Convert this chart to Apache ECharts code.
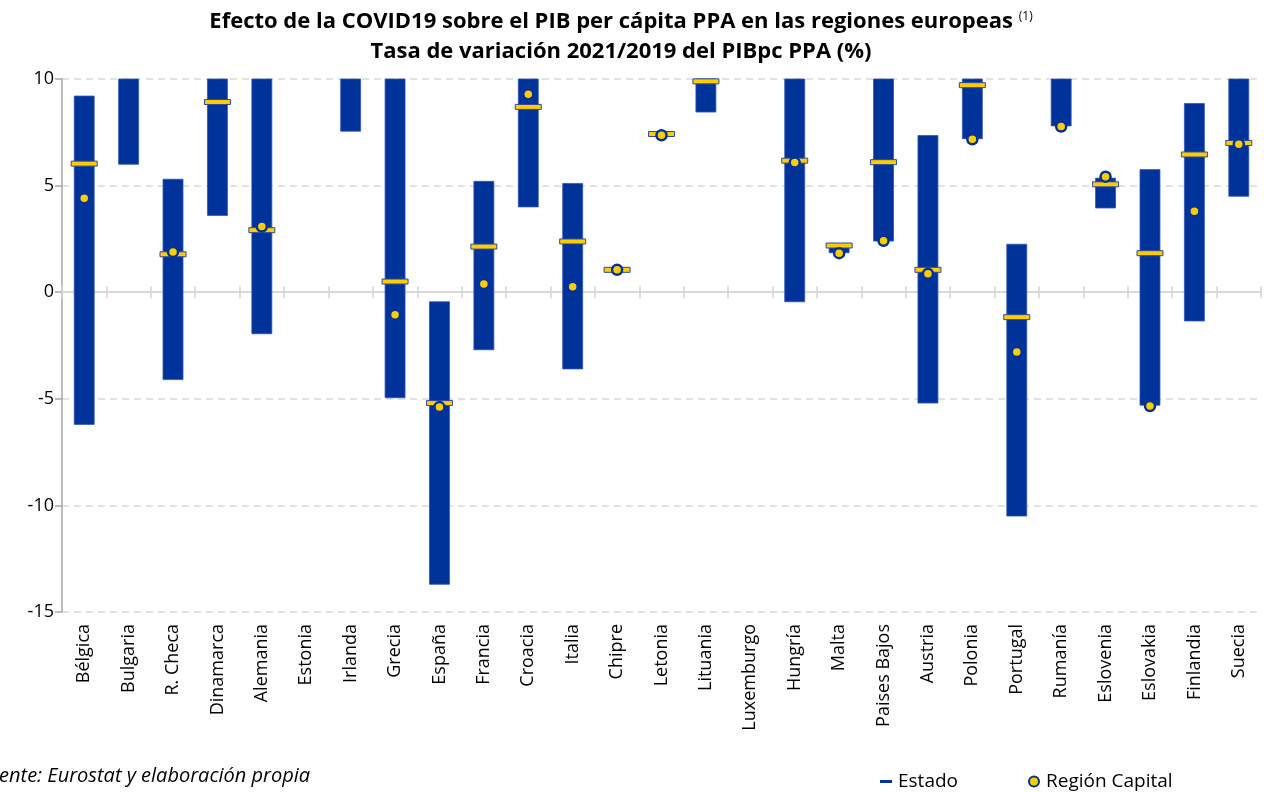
<!DOCTYPE html>
<html>
<head>
<meta charset="utf-8">
<script src="https://cdn.jsdelivr.net/npm/echarts@6/dist/echarts.min.js"></script>
<style>
  html, body { margin: 0; padding: 0; background: #fff; }
  #pib-chart { width: 1264px; height: 792px; }
</style>
</head>
<body>
<div id="pib-chart"></div>
<script>
var paises = ['Bélgica', 'Bulgaria', 'R. Checa', 'Dinamarca', 'Alemania', 'Estonia', 'Irlanda', 'Grecia',
    'España', 'Francia', 'Croacia', 'Italia', 'Chipre', 'Letonia', 'Lituania', 'Luxemburgo', 'Hungría',
    'Malta', 'Paises Bajos', 'Austria', 'Polonia', 'Portugal', 'Rumanía', 'Eslovenia', 'Eslovakia',
    'Finlandia', 'Suecia'];

// rango regional (minimo / maximo), recortado en 10 como en el original
var rangoMin = [-6.2, 6.0, -4.1, 3.6, -1.95, null, 7.55, -4.95, -13.7, -2.7, 4.0, -3.6, 1.05, 7.38, 8.45, null,
    -0.45, 1.85, 2.4, -5.2, 7.2, -10.5, 7.8, 3.95, -5.3, -1.35, 4.5];
var rangoMax = [9.2, 10, 5.3, 10, 10, null, 10, 10, -0.45, 5.2, 10, 5.1, 1.05, 7.42, 10, null,
    10, 2.2, 10, 7.35, 10, 2.25, 10, 5.35, 5.75, 8.85, 10];

var estado = [6.03, null, 1.78, 8.92, 2.91, null, null, 0.5, -5.2, 2.14, 8.69, 2.38, 1.05, 7.42, 9.89, null,
    6.17, 2.19, 6.1, 1.05, 9.71, -1.17, null, 5.06, 1.83, 6.46, 7.0];
var capital = [4.41, null, 1.89, null, 3.08, null, null, -1.06, -5.39, 0.38, 9.28, 0.25, 1.05, 7.36, null, null,
    6.08, 1.83, 2.41, 0.86, 7.17, -2.81, 7.77, 5.42, -5.34, 3.8, 6.94];

var ejeY = [-15, -10, -5, 0, 5, 10];

var AZUL = '#003399';
var AMARILLO = '#ffcc00';
var FUENTE = '"Open Sans", sans-serif';

var chart = echarts.init(document.getElementById('pib-chart'));

var datosRango = [];
var datosEstado = [];
var datosCapital = [];
for (var i = 0; i < paises.length; i++) {
    if (rangoMin[i] != null) datosRango.push([i, rangoMin[i], rangoMax[i]]);
    if (estado[i] != null) datosEstado.push([i, estado[i]]);
    if (capital[i] != null) datosCapital.push([i, capital[i]]);
}

function pintarRango(params, api) {
    var bajo = api.coord([api.value(0), api.value(1)]);
    var alto = api.coord([api.value(0), api.value(2)]);
    var ancho = api.size([1, 0])[0] * 0.45;
    return {
        type: 'rect',
        shape: { x: bajo[0] - ancho / 2, y: alto[1], width: ancho, height: bajo[1] - alto[1] },
        style: { fill: AZUL, stroke: '#2f57b8', lineWidth: 0.8 }
    };
}

function pintarEstado(params, api) {
    var p = api.coord([api.value(0), api.value(1)]);
    return {
        type: 'rect',
        shape: { x: p[0] - 13, y: p[1] - 2.5, width: 26, height: 5 },
        style: { fill: AMARILLO, stroke: '#2a4aa6', lineWidth: 1 }
    };
}

var option = {
    backgroundColor: '#fff',
    textStyle: { fontFamily: FUENTE },
    title: {
        text: 'Efecto de la COVID19 sobre el PIB per cápita PPA en las regiones europeas {sup|(1)}\nTasa de variación 2021/2019 del PIBpc PPA (%)',
        left: 616,
        textAlign: 'center',
        top: 2,
        textStyle: {
            fontFamily: FUENTE,
            fontSize: 22,
            fontWeight: 'bold',
            color: '#000',
            lineHeight: 30,
            rich: {
                sup: { fontSize: 12, fontWeight: 'normal', color: '#000', padding: [0, 0, 10, 0] }
            }
        }
    },
    legend: {
        left: 874,
        top: 767,
        itemGap: 70,
        itemWidth: 14,
        itemHeight: 10,
        textStyle: { fontFamily: FUENTE, fontSize: 19, color: '#000' },
        data: [
            { name: 'Estado', icon: 'path://M0,0L0.01,0L0,0.01Z M14,10L13.99,10L14,9.99Z M1,3.5H13V6.5H1Z', itemStyle: { color: AZUL } },
            { name: 'Región Capital', icon: 'circle', itemStyle: { color: AMARILLO, borderColor: AZUL, borderWidth: 2 } }
        ]
    },
    graphic: [{
        type: 'text',
        left: -22,
        top: 766,
        style: {
            text: 'Fuente: Eurostat y elaboración propia',
            font: 'italic 20px "Open Sans", sans-serif',
            fill: '#000'
        }
    }],
    grid: { left: 62, right: 3, top: 79, bottom: 180 },
    xAxis: [{
        type: 'category',
        data: paises,
        position: 'bottom',
        axisLine: { show: false, onZero: false },
        axisTick: { show: false },
        axisLabel: { interval: 0, rotate: 90, fontSize: 18, color: '#000', fontFamily: FUENTE, margin: 12 }
    }, {
        type: 'category',
        data: paises,
        position: 'bottom',
        axisLine: { show: true, onZero: true, onZeroAxisIndex: 0, lineStyle: { color: '#d9d9d9', width: 2 } },
        axisTick: { show: true, interval: 0, length: 6, lineStyle: { color: '#d4d4d4', width: 1.5 } },
        axisLabel: { show: false }
    }, {
        type: 'category',
        data: paises,
        position: 'top',
        axisLine: { show: false, onZero: true, onZeroAxisIndex: 0 },
        axisTick: { show: true, interval: 0, length: 6, lineStyle: { color: '#d4d4d4', width: 1.5 } },
        axisLabel: { show: false }
    }],
    yAxis: {
        type: 'value',
        min: ejeY[0],
        max: ejeY[ejeY.length - 1],
        interval: 5,
        axisLine: { show: true, lineStyle: { color: '#a6a6a6', width: 1.5 } },
        axisTick: { show: true, length: 7, lineStyle: { color: '#a6a6a6', width: 1.5 } },
        axisLabel: { fontSize: 18, color: '#000', fontFamily: FUENTE, margin: 8 },
        splitLine: { show: true, lineStyle: { color: '#d9d9d9', width: 1.5, type: [7, 5] } }
    },
    series: [{
        name: 'Rango',
        type: 'custom',
        renderItem: pintarRango,
        encode: { x: 0, y: [1, 2] },
        data: datosRango,
        z: 2,
        silent: true
    }, {
        name: 'Estado',
        type: 'custom',
        renderItem: pintarEstado,
        encode: { x: 0, y: 1 },
        itemStyle: { color: AZUL },
        data: datosEstado,
        z: 3
    }, {
        name: 'Región Capital',
        type: 'scatter',
        symbol: 'circle',
        symbolSize: 10,
        itemStyle: { color: AMARILLO, borderColor: AZUL, borderWidth: 2.5, opacity: 1 },
        data: datosCapital,
        z: 4
    }]
};

chart.setOption(option);
</script>
</body>
</html>
